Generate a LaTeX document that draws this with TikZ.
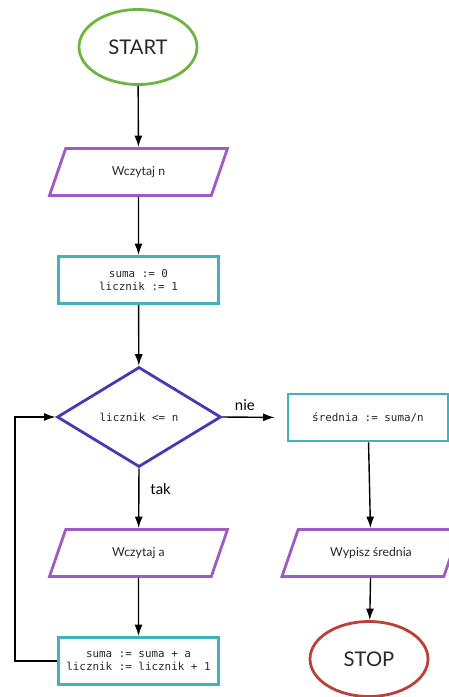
\documentclass[tikz,border=0pt]{standalone}
\usepackage{fontspec}
\setmainfont{Lato}
\setmonofont{DejaVu Sans Mono}
\usepackage{xcolor}
\usetikzlibrary{positioning, arrows.meta, shapes.geometric}

\definecolor{startgreen}{RGB}{110,180,65}
\definecolor{stopred}{RGB}{185,65,55}
\definecolor{iopurple}{RGB}{160,90,195}
\definecolor{proccyan}{RGB}{65,178,188}
\definecolor{condblue}{RGB}{75,55,175}
\definecolor{inkgray}{RGB}{40,40,40}

\begin{document}
\begin{tikzpicture}[
  font=\fontsize{7}{8.5}\selectfont, text=inkgray,
  terminal/.style={draw=#1, ellipse, line width=1.6pt, inner sep=0pt,
                   minimum width=2.36cm, minimum height=1.5cm,
                   font=\fontsize{11.5}{13}\selectfont},
  io/.style={draw=iopurple, trapezium, trapezium left angle=71,
             trapezium right angle=109, trapezium stretches body,
             line width=1.6pt, inner xsep=0pt, inner ysep=0.345cm,
             text height=5.5pt, text depth=1.6pt, minimum width=3.56cm},
  proc/.style={draw=proccyan, rectangle, line width=1.6pt, align=center,
               minimum width=3.2cm, minimum height=0.94cm,
               font=\ttfamily\fontsize{6.2}{7.5}\selectfont},
  cond/.style={draw=condblue, diamond, line width=1.6pt, inner sep=0pt,
               minimum width=3.28cm, minimum height=2.0cm,
               font=\ttfamily\fontsize{6.2}{7.5}\selectfont},
  flow/.style={-{Latex[length=2.3mm, width=1.6mm]}, line width=0.8pt, black},
  blabel/.style={font=\fontsize{8.5}{10}\selectfont},
]
\useasboundingbox (0,0) rectangle (8.98,-13.94);

% Left column: reading and summing
\node[terminal=startgreen] (start) at (2.76,-0.94)  {START};
\node[io]                  (readn) at (2.77,-3.44)  {Wczytaj n};
\node[proc]                (init)  at (2.77,-5.60)  {suma := 0\\licznik := 1};
\node[cond]                (test)  at (2.78,-8.34)  {licznik <= n};
\node[io]                  (reada) at (2.77,-11.06) {Wczytaj a};
\node[proc]                (step)  at (2.77,-13.22) {suma := suma + a\\licznik := licznik + 1};

% Right column: result
\node[proc]                (mean)  at (7.36,-8.35)  {średnia := suma/n};
\node[io]                  (print) at (7.42,-11.06) {Wypisz średnia};
\node[terminal=stopred]    (stop)  at (7.38,-13.18) {STOP};

\coordinate (back) at (0.3,-13.22);

\draw[flow] (start) -- (readn);
\draw[flow] (readn) -- (init);
\draw[flow] (init)  -- (test);
\draw[flow] (test.south) -- node[blabel, right=1mm, pos=0.35] {tak} (reada);
\draw[flow] (reada) -- (step);
\draw[flow, shorten >=0.24cm] (test.east)
         -- node[blabel, above=0mm, pos=0.35] {nie} (mean.west);
\draw[flow] (mean)  -- (print);
\draw[flow] (print) -- (stop);
\draw[flow] (step.west) -- (back) |- (test.west);

\end{tikzpicture}
\end{document}
